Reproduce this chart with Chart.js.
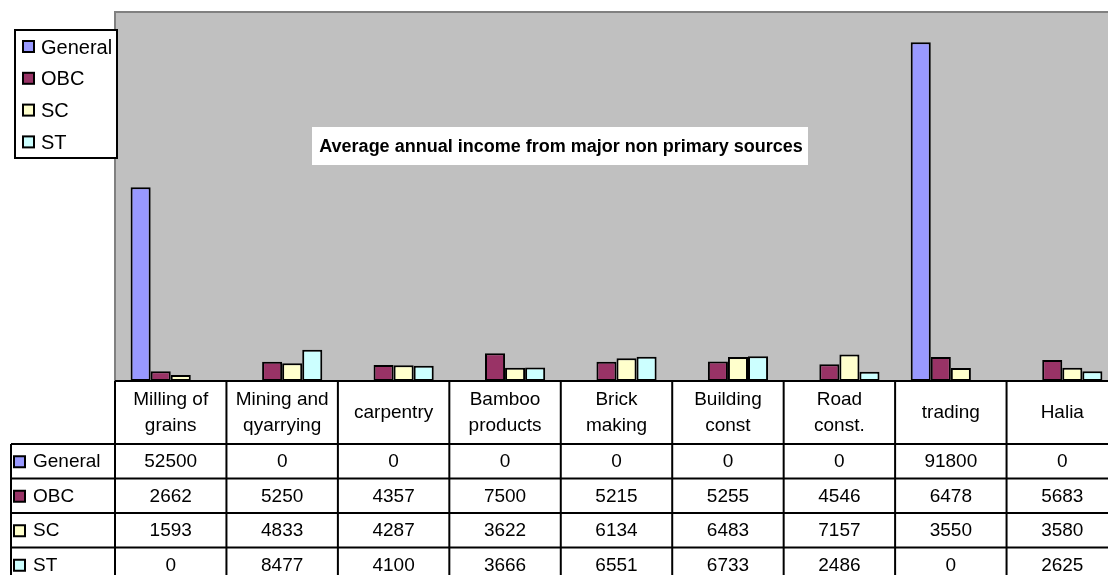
<!DOCTYPE html>
<html>
<head>
<meta charset="utf-8">
<script src="https://cdn.jsdelivr.net/npm/chart.js@4"></script>
<style>
  body { margin: 0; background: #fff; overflow: hidden; }
  canvas { display: block; }
</style>
</head>
<body>
<canvas id="myChart" width="1120" height="575"></canvas>
<script>
// カテゴリ（表のヘッダは2行に分ける）
const categories = [
  ["Milling of", "grains"],
  ["Mining and", "qyarrying"],
  ["carpentry"],
  ["Bamboo", "products"],
  ["Brick", "making"],
  ["Building", "const"],
  ["Road", "const."],
  ["trading"],
  ["Halia"],
]

// 各グループの平均年収
const general = [52500, 0, 0, 0, 0, 0, 0, 91800, 0]
const obc = [2662, 5250, 4357, 7500, 5215, 5255, 4546, 6478, 5683]
const sc = [1593, 4833, 4287, 3622, 6134, 6483, 7157, 3550, 3580]
const st = [0, 8477, 4100, 3666, 6551, 6733, 2486, 0, 2625]

const seriesNames = ["General", "OBC", "SC", "ST"]
const seriesColors = ["#9999FF", "#993366", "#FFFFCC", "#CCFFFF"]
const seriesData = [general, obc, sc, st]

const titleText = "Average annual income from major non primary sources"
const yMax = 100000

const FONT = '"Liberation Sans", Arial, sans-serif'

// グレーの背景
const plotBg = {
  id: "plotBg",
  beforeDraw(chart) {
    const { ctx, chartArea: a } = chart
    ctx.save()
    ctx.fillStyle = "#C0C0C0"
    ctx.fillRect(a.left, a.top, a.right - a.left, a.bottom - a.top)
    ctx.strokeStyle = "#808080"
    ctx.lineWidth = 2
    ctx.beginPath()
    ctx.moveTo(a.left, a.bottom)
    ctx.lineTo(a.left, a.top)
    ctx.lineTo(a.right + 5, a.top)
    ctx.stroke()
    ctx.restore()
  },
}

// 凡例の四角
function swatch(ctx, x, y, color) {
  ctx.fillStyle = color
  ctx.fillRect(x, y, 11, 11)
  ctx.strokeStyle = "#000"
  ctx.lineWidth = 2
  ctx.strokeRect(x, y, 11, 11)
}

// データ表・凡例・タイトル
const tableAndLegend = {
  id: "tableAndLegend",
  afterDraw(chart) {
    const { ctx, chartArea: a, scales } = chart
    const x = scales.x
    const step = x.getPixelForValue(1) - x.getPixelForValue(0)
    const top = a.bottom
    const headH = 63
    const rowH = 34.5
    const leftX = 11
    const bottom = top + headH + rowH * 4 + 2

    ctx.save()
    // 表の背景
    ctx.fillStyle = "#fff"
    ctx.fillRect(a.left, top, a.right - a.left + 5, bottom - top)

    ctx.strokeStyle = "#000"
    ctx.lineWidth = 2
    ctx.beginPath()
    ctx.moveTo(a.left, top)
    ctx.lineTo(a.right + 5, top)
    for (let r = 0; r <= 4; r++) {
      let yy = top + headH + r * rowH
      ctx.moveTo(leftX, yy)
      ctx.lineTo(a.right + 5, yy)
    }
    ctx.moveTo(leftX, top + headH)
    ctx.lineTo(leftX, bottom)
    for (let i = 0; i <= categories.length; i++) {
      let xx = x.getPixelForValue(i) - step / 2
      ctx.moveTo(xx, top)
      ctx.lineTo(xx, bottom)
    }
    ctx.stroke()

    // ヘッダ
    ctx.fillStyle = "#000"
    ctx.font = "19px " + FONT
    ctx.textAlign = "center"
    ctx.textBaseline = "middle"
    categories.forEach((lines, i) => {
      let cx = x.getPixelForValue(i)
      let cy = top + headH / 2
      if (lines.length === 2) {
        ctx.fillText(lines[0], cx, cy - 13)
        ctx.fillText(lines[1], cx, cy + 13)
      } else {
        ctx.fillText(lines[0], cx, cy)
      }
    })

    // 値とラベル
    seriesData.forEach((arr, r) => {
      let cy = top + headH + r * rowH + rowH / 2
      arr.forEach((v, i) => {
        ctx.textAlign = "center"
        ctx.fillText(String(v), x.getPixelForValue(i), cy + 1)
      })
      swatch(ctx, 14, cy - 5, seriesColors[r])
      ctx.fillStyle = "#000"
      ctx.textAlign = "left"
      ctx.fillText(seriesNames[r], 33, cy + 1)
    })

    // 凡例
    ctx.fillStyle = "#fff"
    ctx.fillRect(15, 30, 102, 128)
    ctx.strokeStyle = "#000"
    ctx.lineWidth = 2
    ctx.strokeRect(15, 30, 102, 128)
    ctx.font = "20px " + FONT
    seriesNames.forEach((name, i) => {
      let cy = 47 + i * 31.8
      swatch(ctx, 23, cy - 6, seriesColors[i])
      ctx.fillStyle = "#000"
      ctx.textAlign = "left"
      ctx.fillText(name, 41, cy + 1)
    })

    // タイトル
    ctx.fillStyle = "#fff"
    ctx.fillRect(312, 127, 496, 38)
    ctx.fillStyle = "#000"
    ctx.font = "bold 18px " + FONT
    ctx.textAlign = "center"
    ctx.fillText(titleText, 561, 147)
    ctx.restore()
  },
}

const ctx = document.getElementById("myChart")

new Chart(ctx, {
  type: "bar",
  data: {
    labels: categories.map((c) => c.join(" ")),
    datasets: seriesNames.map((name, i) => {
      return {
        label: name,
        data: seriesData[i],
        backgroundColor: seriesColors[i],
        borderColor: "#000",
        borderWidth: (c) => (c.raw === 0 ? 0 : 2),
        borderSkipped: false,
        barPercentage: 1,
        categoryPercentage: 0.72,
      }
    }),
  },
  options: {
    responsive: false,
    animation: false,
    layout: {
      padding: { left: 115, top: 12, right: 2, bottom: 194 },
    },
    plugins: {
      legend: { display: false },
      title: { display: false },
      tooltip: { enabled: false },
    },
    scales: {
      x: { display: false },
      y: { display: false, min: 0, max: yMax },
    },
  },
  plugins: [plotBg, tableAndLegend],
})
</script>
</body>
</html>
